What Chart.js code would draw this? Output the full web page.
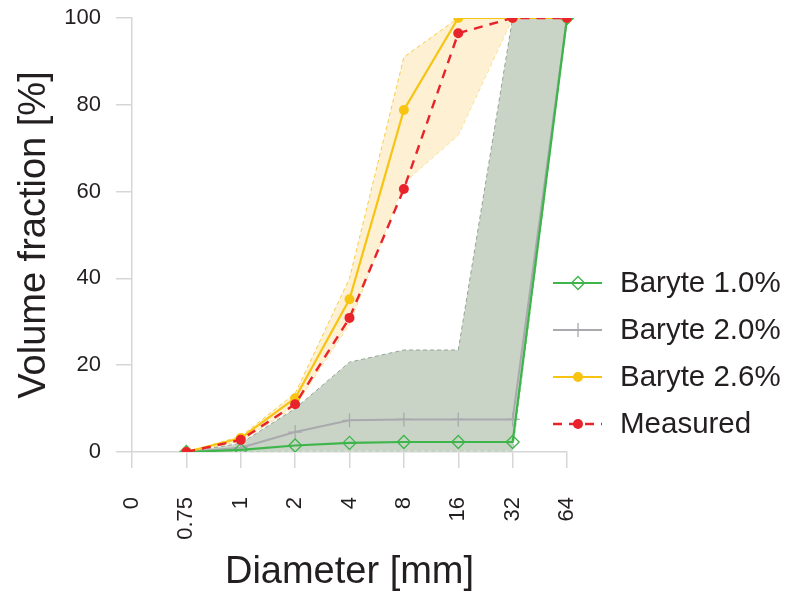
<!DOCTYPE html>
<html>
<head>
<meta charset="utf-8">
<script src="https://cdn.jsdelivr.net/npm/chart.js@4.4.1/dist/chart.umd.min.js"></script>
<style>
  html, body { margin: 0; padding: 0; background: #fff; }
  #wrap { width: 789px; height: 599px; }
</style>
</head>
<body>
<div id="wrap"><canvas id="sizeChart"></canvas></div>
<script>
// grain size distribution, baryte runs vs measured
const diameters = ["0", "0.75", "1", "2", "4", "8", "16", "32", "64"];

const baryte10 = [null, 0, 0.5, 1.5, 2.1, 2.3, 2.3, 2.3, 100];
const baryte20 = [null, 0, 1.0, 4.6, 7.3, 7.5, 7.5, 7.5, 100];
const baryte26 = [null, 0, 3.2, 12.4, 35.2, 78.8, 100, 100, 100];
const measured = [null, 0, 2.8, 11.0, 30.9, 60.6, 96.5, 100, 100];

// spread bands
const band10Upper = [null, 0, 2.0, 10.0, 20.7, 23.5, 23.5, 100, 100];
const band10Lower = [null, 0, 0.2, 0.3, 0.3, 0.3, 0.3, 0.3, 100];
const band26Upper = [null, 0, 3.6, 13.5, 40.0, 91.0, 100, 100, 100];
const band26Lower = [null, 0, 2.5, 10.5, 29.5, 62.0, 73.0, 100, 100];

const yTicks = [0, 20, 40, 60, 80, 100];

const FONT = "'Liberation Sans', Arial, Helvetica, sans-serif";
const TEXT = "#231f20";
const AXIS = "#d6d6d6";

function bandLine(label, data, color, fill, order) {
  return {
    label: label,
    data: data,
    borderColor: color,
    borderWidth: 1,
    borderDash: [4, 3],
    pointRadius: 0,
    tension: 0,
    fill: fill,
    backgroundColor: fill ? fill.color : "transparent",
    order: order,
  };
}

const datasets = [
  {
    label: "Measured",
    data: measured,
    borderColor: "#e8232b",
    backgroundColor: "#e8232b",
    borderWidth: 2.4,
    borderDash: [9, 7],
    pointStyle: "circle",
    pointRadius: 5,
    pointBorderWidth: 0,
    fill: false,
    order: 1,
  },
  {
    label: "Baryte 2.6%",
    data: baryte26,
    borderColor: "#f7c412",
    backgroundColor: "#f7c412",
    borderWidth: 2.2,
    pointStyle: "circle",
    pointRadius: 5,
    pointBorderWidth: 0,
    fill: false,
    order: 2,
  },
  {
    label: "Baryte 1.0%",
    data: baryte10,
    borderColor: "#3db54a",
    backgroundColor: "rgba(0,0,0,0)",
    borderWidth: 2.2,
    pointStyle: "rectRot",
    pointRadius: 6.5,
    pointBorderWidth: 1.3,
    fill: false,
    order: 3,
  },
  {
    label: "Baryte 2.0%",
    data: baryte20,
    borderColor: "#a9a9ae",
    backgroundColor: "#a9a9ae",
    borderWidth: 2,
    pointStyle: "cross",
    pointRadius: 7,
    pointBorderWidth: 1.3,
    fill: false,
    order: 4,
  },
  bandLine("band10Upper", band10Upper, "#93a593", { target: "+1", color: "#c9d4c7" }, 5),
  bandLine("band10Lower", band10Lower, "#7fce82", false, 6),
  bandLine("band26Upper", band26Upper, "#f7cd45", { target: "+1", color: "#fdf0d3" }, 7),
  bandLine("band26Lower", band26Lower, "#f7cd45", false, 8),
];

const legendOrder = ["Baryte 1.0%", "Baryte 2.0%", "Baryte 2.6%", "Measured"];

// legend drawn beside the plot, line sample + marker + label
const sideLegend = {
  id: "sideLegend",
  afterDraw(chart) {
    const ctx = chart.ctx;
    ctx.save();
    legendOrder.forEach((name, i) => {
      const ds = chart.data.datasets.find(d => d.label === name);
      const y = 283 + i * 47;
      ctx.strokeStyle = ds.borderColor;
      ctx.lineWidth = ds.borderWidth;
      ctx.setLineDash(ds.borderDash || []);
      ctx.beginPath();
      ctx.moveTo(553, y);
      ctx.lineTo(602, y);
      ctx.stroke();
      ctx.setLineDash([]);
      ctx.fillStyle = ds.backgroundColor;
      ctx.lineWidth = ds.pointBorderWidth || 1;
      Chart.helpers.drawPoint(ctx, {
        pointStyle: ds.pointStyle,
        radius: ds.pointRadius,
        rotation: 0,
        borderWidth: ds.pointBorderWidth || 0,
      }, 578, y);
      ctx.fillStyle = TEXT;
      ctx.font = "29.5px " + FONT;
      ctx.textBaseline = "middle";
      ctx.textAlign = "left";
      ctx.fillText(name, 620, y + 1);
    });
    ctx.restore();
  },
};

new Chart("sizeChart", {
  type: "line",
  data: {
    labels: diameters,
    datasets: datasets,
  },
  plugins: [sideLegend],
  options: {
    responsive: true,
    maintainAspectRatio: false,
    animation: false,
    layout: {
      padding: { top: 18, right: 222, left: 0, bottom: 0 },
    },
    plugins: {
      legend: { display: false },
      tooltip: { enabled: false },
      filler: { propagate: false },
    },
    scales: {
      x: {
        type: "category",
        offset: false,
        grid: {
          drawOnChartArea: false,
          drawTicks: true,
          tickLength: 16,
          color: AXIS,
          lineWidth: 1.5,
        },
        border: { display: true, color: AXIS, width: 1.5 },
        ticks: {
          autoSkip: false,
          minRotation: 90,
          maxRotation: 90,
          padding: 29,
          color: TEXT,
          font: { family: FONT, size: 22 },
        },
        title: {
          display: true,
          text: "Diameter [mm]",
          color: TEXT,
          font: { family: FONT, size: 38 },
          padding: { top: 0, bottom: 4 },
        },
        afterFit(scale) {
          scale.height = 147;
        },
      },
      y: {
        min: 0,
        max: 100,
        afterBuildTicks(scale) {
          scale.ticks = yTicks.map(v => ({ value: v }));
        },
        grid: {
          drawOnChartArea: false,
          drawTicks: true,
          tickLength: 16,
          color: AXIS,
          lineWidth: 1.5,
        },
        border: { display: true, color: AXIS, width: 1.5 },
        ticks: {
          padding: 15,
          color: TEXT,
          font: { family: FONT, size: 22 },
        },
        title: {
          display: true,
          text: "Volume fraction [%]",
          color: TEXT,
          font: { family: FONT, size: 38 },
          padding: { top: 12, bottom: 0 },
        },
        afterFit(scale) {
          scale.width = 132;
          scale.paddingTop = 0;
          scale.paddingBottom = 0;
        },
      },
    },
  },
});
</script>
</body>
</html>
